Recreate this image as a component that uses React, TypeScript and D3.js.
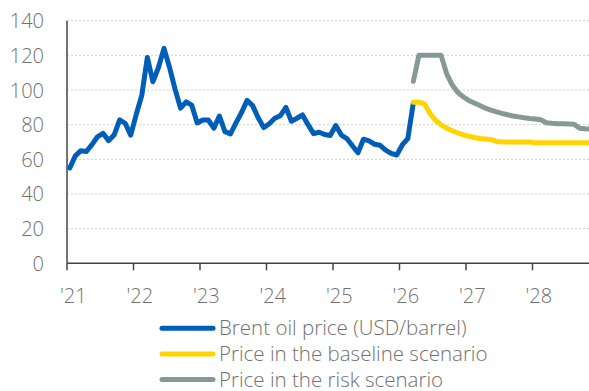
import React from "react";
import * as d3 from "d3";

// Monthly values, January 2021 onward (index 0 = Jan 2021)
const brentStart = 0;
const brent = [
  55, 62, 65, 64.5, 68.5, 73, 75, 70.8, 74, 82.8, 80.8, 74,
  86, 97, 118.8, 104.8, 113, 124, 113, 100.5, 89.5, 93.2, 91.3, 81,
  82.7, 82.7, 78, 85, 76, 74.7, 81, 87, 94, 91, 84, 78.3,
  80.5, 83.7, 85.2, 90, 82, 83.7, 85.6, 80, 74.8, 75.6, 74.3, 73.8,
  79.5, 74, 72, 67.8, 63.8, 71.6, 70.6, 68.7, 68.1, 65.3, 63.4, 62.5,
  68.3, 72, 92.7,
];

const baselineStart = 62; // Mar 2026
const baseline = [
  93, 93, 92, 86.5, 82.5, 80, 78, 76.5, 75.2, 74.2,
  73.3, 72.6, 72, 71.7, 71.4, 70.3, 70, 70, 70, 70, 70, 70,
  69.6, 69.6, 69.6, 69.6, 69.6, 69.5, 69.5, 69.5, 69.5, 69.5, 69.5,
];

const riskStart = 62; // Mar 2026
const risk = [
  105, 120, 120, 120, 120, 120, 109.5, 103, 98.7, 96,
  94, 92.5, 91, 89.5, 88.4, 87.4, 86.5, 85.7, 85, 84.5, 84, 83.6,
  83.3, 82.8, 81.1, 80.8, 80.6, 80.5, 80.4, 80.3, 77.9, 77.6, 77.4,
];

const yTicks = [0, 20, 40, 60, 80, 100, 120, 140];
const yearTicks = [0, 12, 24, 36, 48, 60, 72, 84];
const yearLabels = ["'21", "'22", "'23", "'24", "'25", "'26", "'27", "'28"];

const seriesNames = [
  "Brent oil price (USD/barrel)",
  "Price in the baseline scenario",
  "Price in the risk scenario",
];
const seriesColors = ["#005EB8", "#FFD400", "#879995"];

const W = 589;
const H = 391;
const FONT = "'Open Sans', 'Noto Sans', sans-serif";
const TEXT = "#707070";

export default function App() {
  const x = d3.scaleLinear().domain([0, 96]).range([67, 599]);
  const y = d3.scaleLinear().domain([0, 140]).range([263.3, 20.7]);

  const toPts = (vals: number[], start: number) =>
    vals.map((v, i) => [start + i + 0.5, v] as [number, number]);

  const line = d3
    .line<[number, number]>()
    .x((d) => x(d[0]))
    .y((d) => y(d[1]));

  const series = [
    toPts(brent, brentStart),
    toPts(baseline, baselineStart),
    toPts(risk, riskStart),
  ];
  const drawOrder = [0, 2, 1];

  return (
    <svg
      width={W}
      height={H}
      style={{ position: "absolute", left: 0, top: 0, background: "#fff" }}
      fontFamily={FONT}
    >
      {/* horizontal gridlines */}
      {yTicks.slice(1).map((t) => (
        <line
          key={t}
          x1={67}
          x2={W}
          y1={y(t)}
          y2={y(t)}
          stroke="#cfcfcf"
          strokeWidth={1}
          strokeDasharray="2,2"
        />
      ))}

      {/* y labels */}
      {yTicks.map((t) => (
        <text
          key={t}
          x={44}
          y={y(t) + 7.5}
          textAnchor="end"
          fontSize={20}
          fontWeight={300}
          fill={TEXT}
        >
          {t}
        </text>
      ))}

      {/* axes */}
      <line x1={67} x2={67} y1={y(140)} y2={y(0)} stroke="#444" strokeWidth={1.5} />
      <line x1={67} x2={W} y1={y(0)} y2={y(0)} stroke="#444" strokeWidth={1.5} />
      {yearTicks.map((m) => (
        <line
          key={m}
          x1={x(m)}
          x2={x(m)}
          y1={y(0)}
          y2={y(0) + 7}
          stroke="#444"
          strokeWidth={1.5}
        />
      ))}
      {yearTicks.map((m, i) => (
        <text
          key={m}
          x={x(m) + 6.3}
          y={303}
          textAnchor="middle"
          fontSize={20}
          fontWeight={300}
          fill={TEXT}
        >
          {yearLabels[i]}
        </text>
      ))}

      {/* series lines */}
      {drawOrder.map((i) => (
        <path
          key={i}
          d={line(series[i]) || ""}
          fill="none"
          stroke={seriesColors[i]}
          strokeWidth={5}
          strokeLinejoin="round"
          strokeLinecap="round"
        />
      ))}

      {/* legend */}
      {seriesNames.map((name, i) => {
        const cy = 328.3 + i * 25.6;
        return (
          <g key={name}>
            <line
              x1={162}
              x2={213}
              y1={cy}
              y2={cy}
              stroke={seriesColors[i]}
              strokeWidth={5}
              strokeLinecap="round"
            />
            <text x={219} y={cy + 7} fontSize={20.5} fontWeight={300} fill={TEXT}>
              {name}
            </text>
          </g>
        );
      })}
    </svg>
  );
}
